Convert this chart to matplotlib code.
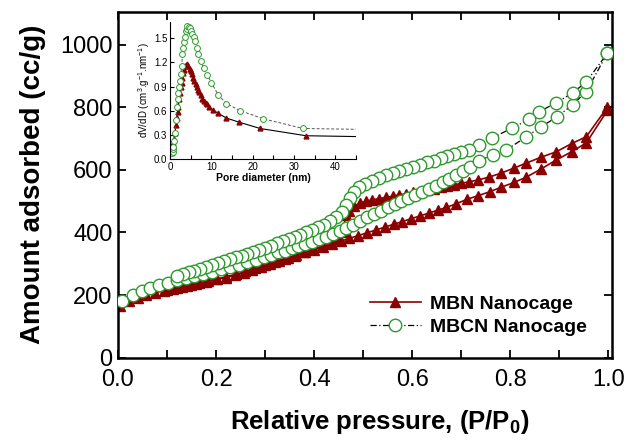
import numpy as np
import matplotlib
matplotlib.use("Agg")
import matplotlib.pyplot as plt
from matplotlib.ticker import MultipleLocator

plt.rcParams["font.family"] = ["Liberation Sans", "DejaVu Sans"]
plt.rcParams["mathtext.default"] = "regular"

# ------------------------------------------------------------
# N2 isotherms (main plot)
# ------------------------------------------------------------
mbcn_ads_p = [0.008, 0.030, 0.048, 0.066, 0.084, 0.102, 0.120, 0.138, 0.156, 0.174,
              0.192, 0.210, 0.228, 0.246, 0.264, 0.282, 0.298, 0.312, 0.326, 0.340,
              0.354, 0.368, 0.382, 0.396, 0.410, 0.424, 0.438, 0.452, 0.466, 0.480,
              0.494, 0.508, 0.522, 0.536, 0.550, 0.564, 0.578, 0.592, 0.606, 0.620,
              0.634, 0.648, 0.662, 0.676, 0.690, 0.704, 0.718, 0.737, 0.765, 0.792,
              0.833, 0.863, 0.896, 0.927, 0.955, 0.998]
mbcn_ads_v = [181, 200, 212, 222, 231, 239, 247, 254, 261, 268,
              275, 282, 289, 296, 304, 312, 320, 328, 336, 342,
              349, 356, 363, 370, 378, 386, 395, 404, 414, 425,
              437, 448, 459, 470, 481, 492, 502, 511, 520, 530,
              540, 550, 561, 572, 584, 596, 610, 630, 648, 664,
              706, 738, 770, 808, 850, 973]

mbcn_des_p = [0.998, 0.955, 0.927, 0.893, 0.859, 0.839, 0.804, 0.763, 0.737, 0.716,
              0.700, 0.686, 0.672, 0.658, 0.644, 0.630, 0.616, 0.602, 0.588, 0.574,
              0.560, 0.546, 0.532, 0.518, 0.504, 0.492, 0.482, 0.474, 0.466, 0.456,
              0.444, 0.432, 0.420, 0.408, 0.396, 0.384, 0.372, 0.360, 0.348, 0.336,
              0.324, 0.312, 0.300, 0.288, 0.276, 0.264, 0.252, 0.240, 0.228, 0.216,
              0.204, 0.192, 0.180, 0.168, 0.156, 0.144, 0.132, 0.120]
mbcn_des_v = [973, 881, 846, 814, 786, 762, 734, 702, 680, 664,
              656, 650, 644, 637, 630, 624, 617, 610, 603, 597,
              590, 583, 575, 566, 556, 546, 530, 510, 488, 467,
              450, 437, 425, 416, 408, 400, 393, 386, 379, 372,
              365, 358, 351, 344, 338, 332, 326, 320, 314, 308,
              302, 296, 290, 284, 278, 272, 266, 260]

mbn_ads_p = [0.005, 0.022, 0.040, 0.058, 0.076, 0.094, 0.112, 0.130, 0.148, 0.166,
             0.184, 0.202, 0.220, 0.238, 0.256, 0.274, 0.292, 0.310, 0.328, 0.346,
             0.364, 0.382, 0.400, 0.418, 0.436, 0.454, 0.472, 0.490, 0.508, 0.526,
             0.544, 0.562, 0.580, 0.598, 0.616, 0.634, 0.652, 0.670, 0.690, 0.712,
             0.735, 0.758, 0.782, 0.808, 0.833, 0.862, 0.894, 0.925, 0.955, 0.998]
mbn_ads_v = [165, 182, 192, 200, 207, 214, 220, 226, 232, 238,
             244, 250, 256, 263, 271, 280, 290, 300, 309, 318,
             327, 336, 345, 354, 363, 372, 381, 390, 399, 408,
             417, 426, 435, 444, 453, 462, 471, 480, 492, 506,
             518, 530, 545, 560, 577, 602, 632, 658, 686, 790]

mbn_des_p = [0.998, 0.955, 0.925, 0.894, 0.862, 0.833, 0.808, 0.782, 0.757, 0.735,
             0.716, 0.700, 0.686, 0.672, 0.658, 0.644, 0.630, 0.616, 0.602, 0.588,
             0.574, 0.560, 0.546, 0.532, 0.518, 0.506, 0.494, 0.482, 0.472, 0.465,
             0.458, 0.446, 0.432, 0.416, 0.398, 0.380, 0.360, 0.340, 0.320, 0.300,
             0.280, 0.260, 0.240, 0.220, 0.200, 0.180, 0.160, 0.140, 0.120, 0.100]
mbn_des_v = [800, 706, 684, 658, 640, 622, 606, 590, 577, 568,
             562, 557, 552, 548, 544, 540, 536, 532, 528, 524,
             520, 516, 512, 508, 504, 500, 494, 484, 470, 455,
             400, 378, 366, 356, 346, 336, 326, 316, 306, 296,
             286, 276, 266, 258, 250, 243, 236, 229, 222, 216]

# ------------------------------------------------------------
# Pore size distribution (inset)
# ------------------------------------------------------------
mbcn_psd_d = [0.5, 0.6, 0.7, 0.8, 1.0, 1.2, 1.4, 1.6, 1.8, 2.0, 2.2, 2.4, 2.6, 2.8,
              3.0, 3.2, 3.4, 3.6, 3.8, 4.0, 4.2, 4.5, 4.8, 5.1, 5.4, 5.7, 6.0, 6.4,
              6.8, 7.4, 8.2, 9.0, 10.0, 11.6, 13.6, 17.0, 22.6, 32.2, 45.0]
mbcn_psd_v = [0.07, 0.09, 0.12, 0.15, 0.22, 0.32, 0.49, 0.65, 0.74, 0.82, 0.90, 0.97, 1.05, 1.15,
              1.30, 1.38, 1.45, 1.52, 1.59, 1.62, 1.65, 1.64, 1.63, 1.59, 1.55, 1.51, 1.47, 1.38,
              1.30, 1.22, 1.13, 1.04, 0.95, 0.80, 0.69, 0.60, 0.50, 0.38, 0.37]

mbn_psd_d = [0.8, 1.0, 1.2, 1.4, 1.6, 1.8, 2.0, 2.2, 2.4, 2.6, 2.8, 3.0, 3.2, 3.4,
             3.6, 3.8, 4.1, 4.4, 4.7, 5.0, 5.3, 5.6, 5.9, 6.2, 6.5, 6.8, 7.1, 7.4,
             7.8, 8.2, 8.6, 9.0, 9.4, 10.4, 11.6, 13.6, 16.6, 21.8, 32.9, 45.0]
mbn_psd_v = [0.20, 0.25, 0.33, 0.42, 0.51, 0.58, 0.65, 0.74, 0.82, 0.89, 0.95, 1.01, 1.07, 1.11,
             1.15, 1.17, 1.18, 1.15, 1.12, 1.09, 1.05, 1.01, 0.97, 0.93, 0.89, 0.86, 0.83, 0.80,
             0.74, 0.72, 0.70, 0.68, 0.65, 0.61, 0.57, 0.51, 0.46, 0.38, 0.29, 0.28]

RED = "#8b0000"
GREEN = "#2e9a2e"

fig = plt.figure(figsize=(6.3, 4.42), dpi=100)
ax = fig.add_axes([0.1873, 0.191, 0.7837, 0.782])

ax.plot(mbn_ads_p + mbn_des_p, mbn_ads_v + mbn_des_v, color=RED, lw=1.2,
        marker="^", ms=7.5, mfc=RED, mec=RED, label="MBN Nanocage", zorder=2)
ax.plot(mbcn_ads_p + mbcn_des_p, mbcn_ads_v + mbcn_des_v, color="black", lw=0.9,
        ls=(0, (5, 2, 1, 2)), marker="o", ms=9, mfc="white", mec=GREEN, mew=1.0,
        label="MBCN Nanocage", zorder=3)

ax.set_xlim(0, 1.007)
ax.set_ylim(0, 1105)
ax.xaxis.set_major_locator(MultipleLocator(0.2))
ax.xaxis.set_minor_locator(MultipleLocator(0.1))
ax.yaxis.set_major_locator(MultipleLocator(200))
ax.xaxis.set_major_formatter(plt.FormatStrFormatter("%.1f"))
ax.tick_params(which="both", direction="in", top=True, right=True, width=1.3)
ax.tick_params(which="major", length=6, labelsize=17)
ax.tick_params(which="minor", length=6)
ax.tick_params(axis="x", which="major", pad=8)
ax.tick_params(axis="y", which="major", pad=4)
for s in ax.spines.values():
    s.set_linewidth(1.8)

ax.set_xlabel("Relative pressure, (P/P$_0$)", fontsize=18.5, fontweight="bold")
ax.xaxis.set_label_coords(0.53, -0.145)
ax.set_ylabel("Amount adsorbed (cc/g)", fontsize=20, fontweight="bold", labelpad=10)

ax.legend(loc="lower left", bbox_to_anchor=(0.475, 0.013), frameon=False,
          prop={"size": 14, "weight": "bold"}, handlelength=2.6,
          handletextpad=0.5, labelspacing=0.25)

# inset
ins = fig.add_axes([0.270, 0.640, 0.295, 0.310])
ins.plot(mbn_psd_d, mbn_psd_v, color="black", lw=0.8, marker="^", ms=3.5,
         mfc=RED, mec=RED, markevery=slice(0, -1))
ins.plot(mbcn_psd_d, mbcn_psd_v, color="#555555", lw=0.7, ls=(0, (3, 2)),
         marker="o", ms=4.2, mfc="white", mec=GREEN, mew=0.7, markevery=slice(0, -1))
ins.set_xlim(0, 45)
ins.set_ylim(0, 1.7)
ins.xaxis.set_major_locator(MultipleLocator(10))
ins.xaxis.set_minor_locator(MultipleLocator(5))
ins.yaxis.set_major_locator(MultipleLocator(0.3))
ins.yaxis.set_major_formatter(plt.FormatStrFormatter("%.1f"))
ins.spines["top"].set_visible(False)
ins.spines["right"].set_visible(False)
ins.tick_params(which="both", direction="in", labelsize=7, length=3, width=0.8, pad=2)
ins.set_xlabel("Pore diameter (nm)", fontsize=7.5, fontweight="bold", labelpad=1)
ins.set_ylabel("dV/dD (cm$^3$.g$^{-1}$.nm$^{-1}$)", fontsize=7, labelpad=1)

fig.savefig("out.png", dpi=100)
